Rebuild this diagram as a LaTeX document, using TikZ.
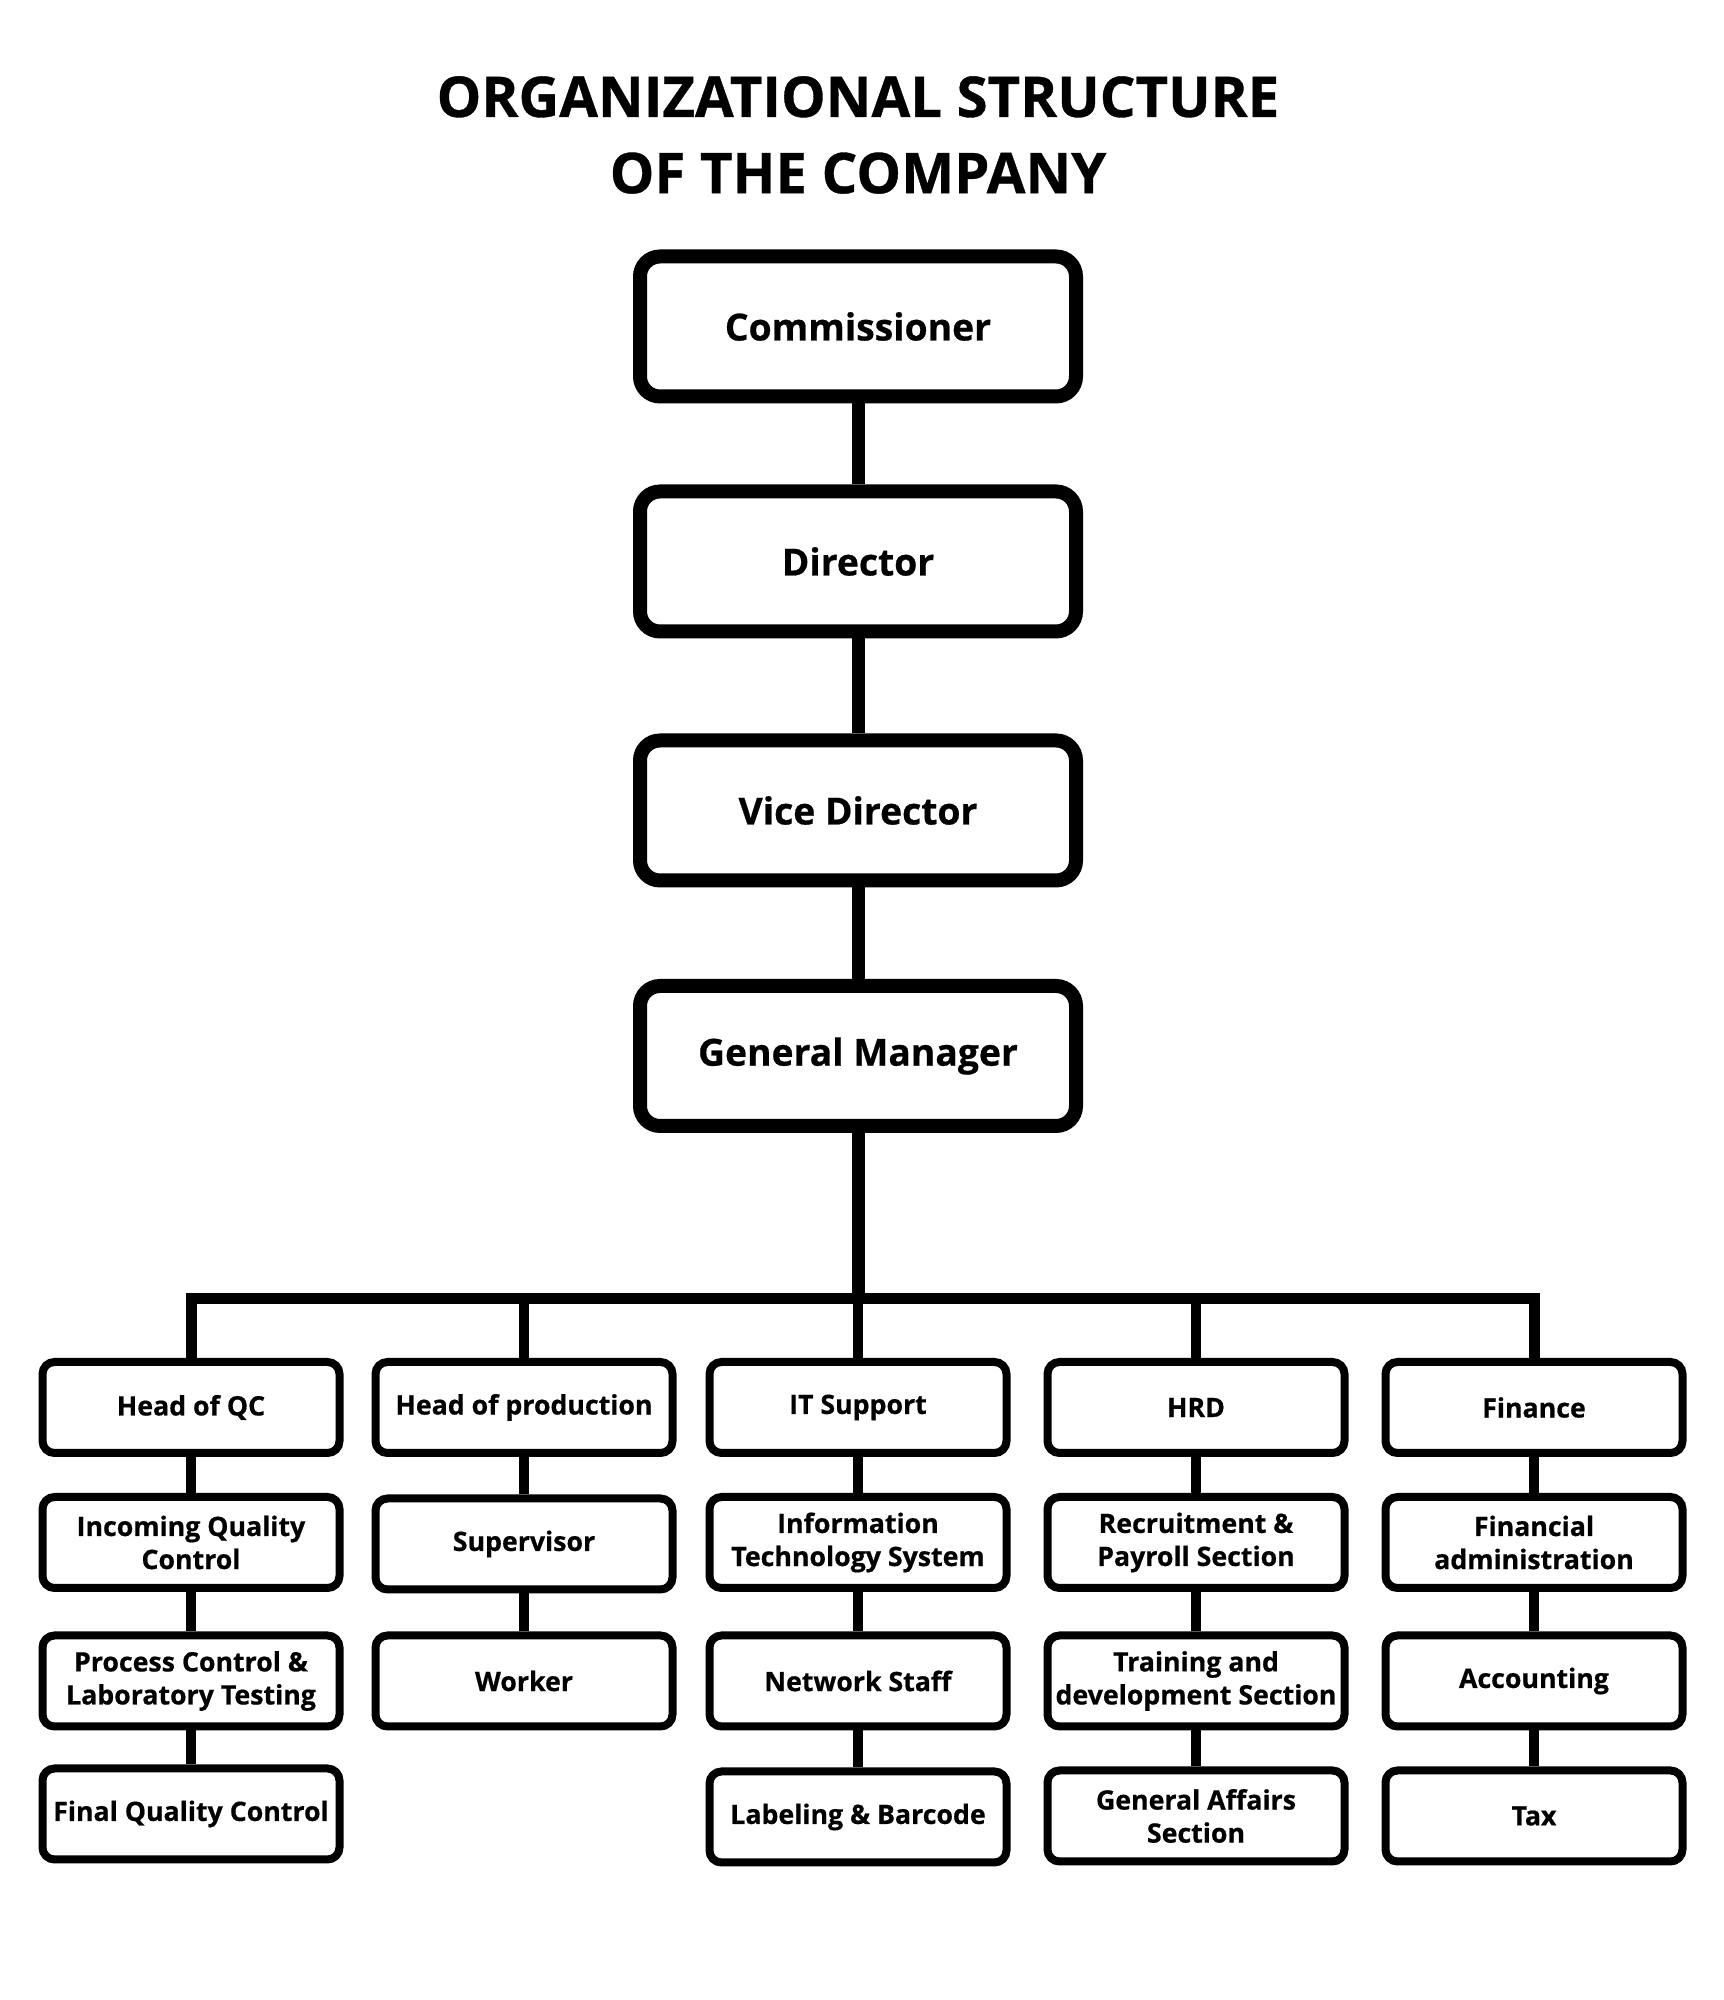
\documentclass[tikz,border=0pt]{standalone}
\usepackage{fontspec}
\setmainfont{Open Sans}[BoldFeatures={FakeBold=0.6}]
\usepackage{tikz}
\usetikzlibrary{positioning, calc}

\tikzset{
  topbox/.style={draw, line width=1.4mm, rounded corners=0.2cm, minimum width=4.36cm,
    minimum height=1.40cm, inner sep=2pt, font=\fontsize{10.6}{12.6}\selectfont\bfseries},
  unitbox/.style={draw, line width=0.8mm, rounded corners=0.12cm, minimum width=2.97cm,
    minimum height=0.91cm, inner sep=1pt, align=center, font=\fontsize{7.6}{9.4}\selectfont\bfseries},
  mainline/.style={line width=1.3mm},
  barline/.style={line width=1.1mm, line join=miter},
  subline/.style={line width=1mm}
}

\begin{document}
\begin{tikzpicture}
% Page
\fill[white] (0,0) rectangle (17.24,20);

% Title
\node[align=center, font=\fontsize{16}{21.7}\selectfont\bfseries] (title) at (8.58,18.65)
  {ORGANIZATIONAL STRUCTURE\\OF THE COMPANY};

% Top chain
\node[topbox] (comm) at (8.58,16.735) {Commissioner};
\node[topbox] (dir) at (8.58,14.385) {Director};
\node[topbox] (vdir) at (8.58,11.895) {Vice Director};
\node[topbox] (gm) at (8.58,9.44) {General Manager};

\draw[mainline] (comm.south) -- (dir.north);
\draw[mainline] (dir.south) -- (vdir.north);
\draw[mainline] (vdir.south) -- (gm.north);

% Branch bar
\coordinate (bar) at (8.58,7.01);
\draw[mainline] (gm.south) -- (gm |- bar);

% Quality control
\node[unitbox] (qc) at (1.91,5.925) {Head of QC};
\node[unitbox] (qc1) at (1.91,4.575) {Incoming Quality\\Control};
\node[unitbox] (qc2) at (1.91,3.19) {Process Control \&\\Laboratory Testing};
\node[unitbox] (qc3) at (1.91,1.86) {Final Quality Control};

% Production
\node[unitbox] (prod) at (5.24,5.925) {Head of production};
\node[unitbox] (prod1) at (5.24,4.56) {Supervisor};
\node[unitbox] (prod2) at (5.24,3.19) {Worker};

% IT
\node[unitbox] (it) at (8.58,5.925) {IT Support};
\node[unitbox] (it1) at (8.58,4.575) {Information\\Technology System};
\node[unitbox] (it2) at (8.58,3.19) {Network Staff};
\node[unitbox] (it3) at (8.58,1.83) {Labeling \& Barcode};

% HRD
\node[unitbox] (hrd) at (11.96,5.925) {HRD};
\node[unitbox] (hrd1) at (11.96,4.575) {Recruitment \&\\Payroll Section};
\node[unitbox] (hrd2) at (11.96,3.19) {Training and\\development Section};
\node[unitbox] (hrd3) at (11.96,1.84) {General Affairs\\Section};

% Finance
\node[unitbox] (fin) at (15.34,5.925) {Finance};
\node[unitbox] (fin1) at (15.34,4.575) {Financial\\administration};
\node[unitbox] (fin2) at (15.34,3.19) {Accounting};
\node[unitbox] (fin3) at (15.34,1.84) {Tax};

% Bar and drops
\draw[barline] (qc.north) -- (qc |- bar) -- (fin |- bar) -- (fin.north);
\foreach \col in {prod, it, hrd}
  \draw[subline] (\col |- bar) -- (\col.north);

% Column links
\foreach \a/\b in {qc/qc1, qc1/qc2, qc2/qc3, prod/prod1, prod1/prod2,
                   it/it1, it1/it2, it2/it3, hrd/hrd1, hrd1/hrd2, hrd2/hrd3,
                   fin/fin1, fin1/fin2, fin2/fin3}
  \draw[subline] (\a.south) -- (\b.north);
\end{tikzpicture}
\end{document}
